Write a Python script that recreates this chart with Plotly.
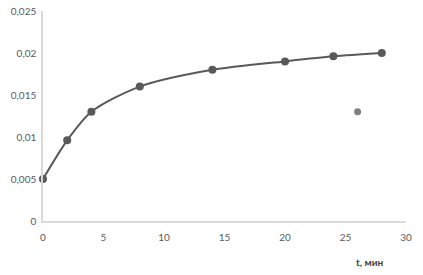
import plotly.graph_objects as go

t_min = [0, 2, 4, 8, 14, 20, 24, 28]
conc = [0.005, 0.0096, 0.013, 0.016, 0.018, 0.019, 0.0196, 0.020]
outlier_t = [26]
outlier_c = [0.013]

x_ticks = [0, 5, 10, 15, 20, 25, 30]
y_ticks = [0, 0.005, 0.01, 0.015, 0.02, 0.025]
y_tick_text = ["0", "0,005", "0,01", "0,015", "0,02", "0,025"]

fig = go.Figure()
fig.add_trace(go.Scatter(
    x=t_min, y=conc, mode="lines+markers",
    line=dict(color="#595959", width=2, shape="spline", smoothing=0.8),
    marker=dict(color="#595959", size=8),
    showlegend=False, cliponaxis=False,
))
fig.add_trace(go.Scatter(
    x=outlier_t, y=outlier_c, mode="markers",
    marker=dict(color="#7f7f7f", size=7),
    showlegend=False, cliponaxis=False,
))

pw = 423 - 43 - 17
ph = 275 - 11 - 54

fig.update_layout(
    width=423, height=275,
    margin=dict(l=43, r=17, t=11, b=54),
    paper_bgcolor="white", plot_bgcolor="white",
    font=dict(family="Lato, Open Sans, sans-serif", size=10, color="#595959"),
    xaxis=dict(
        range=[0, 30], tickvals=x_ticks, showgrid=False, zeroline=False,
        showline=True, linecolor="#d9d9d9", linewidth=1.5,
        ticks="outside", ticklen=6, tickcolor="rgba(0,0,0,0)",
        automargin=False,
    ),
    yaxis=dict(
        range=[0, 0.025], tickvals=y_ticks, ticktext=y_tick_text,
        showgrid=False, zeroline=False,
        showline=True, linecolor="#d9d9d9", linewidth=1.5,
        ticks="outside", ticklen=3, tickcolor="rgba(0,0,0,0)",
        automargin=False,
    ),
    annotations=[dict(
        text="<b>t, мин</b>", x=(369 - 43) / pw, y=(221 - 262) / ph,
        xref="paper", yref="paper", xanchor="center", yanchor="middle",
        showarrow=False, font=dict(size=10, color="#404040"),
    )],
)

fig.write_html("out.html")
